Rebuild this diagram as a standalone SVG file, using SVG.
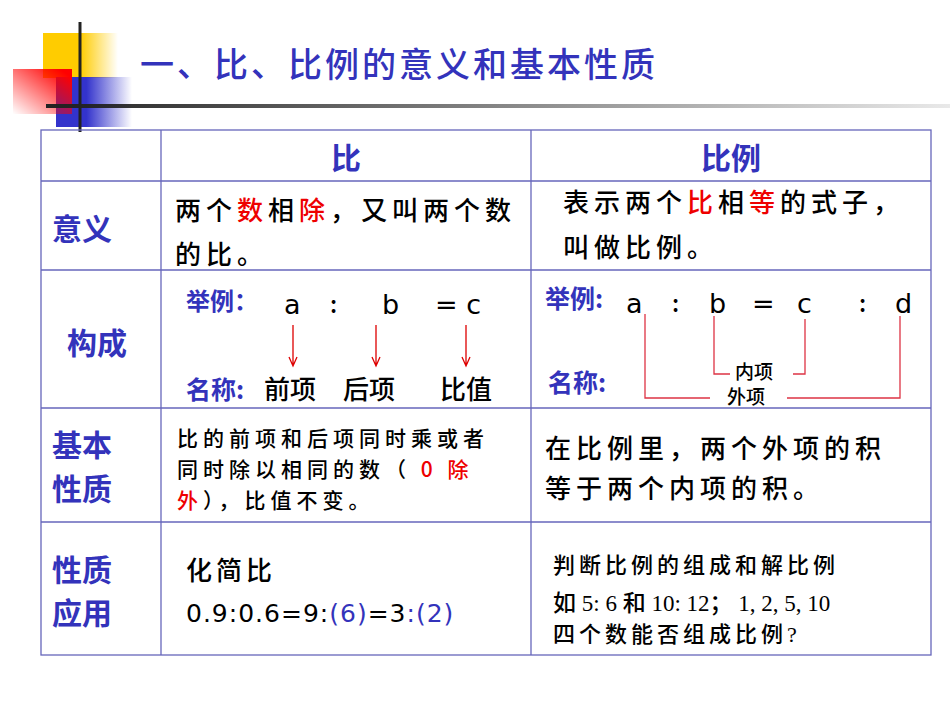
<svg xmlns="http://www.w3.org/2000/svg" width="950" height="713" viewBox="0 0 950 713">
<defs>
<linearGradient id="gy" x1="0" x2="1" y1="0" y2="0"><stop offset="0.5" stop-color="#ffcc00"/><stop offset="1" stop-color="#ffcc00" stop-opacity="0"/></linearGradient>
<linearGradient id="gb" x1="0" x2="1" y1="0" y2="0"><stop offset="0.4" stop-color="#3333cc"/><stop offset="1" stop-color="#3333cc" stop-opacity="0"/></linearGradient>
<linearGradient id="gr" x1="1" y1="0" x2="0" y2="1"><stop offset="0.1" stop-color="#ff0000"/><stop offset="1" stop-color="#ff0000" stop-opacity="0"/></linearGradient>
<linearGradient id="gl" x1="0" x2="1"><stop offset="0" stop-color="#222"/><stop offset="1" stop-color="#222" stop-opacity="0.1"/></linearGradient>
</defs>
<style>
.t{font-family:"Noto Sans CJK SC",sans-serif;font-weight:500}
.h{fill:#3333bb;font-size:30px;font-weight:bold}
.b{fill:#000;font-size:26px}
.r{fill:#ee0000}
.bl{fill:#3333bb;font-weight:bold}
.ln{fill:none;stroke:#dd3344;stroke-width:1.3}
.v{font-family:"DejaVu Sans",sans-serif;font-weight:normal}
.s{font-family:"Liberation Serif","Noto Sans CJK SC",serif}
.arr{fill:none;stroke:#dd0000;stroke-width:1.3}
</style>
<g id="deco">
<rect x="43" y="33" width="75" height="45" fill="url(#gy)"/>
<rect x="56" y="77" width="76" height="50" fill="url(#gb)"/>
<rect x="13" y="69" width="59" height="45" fill="url(#gr)"/>
<line x1="80" y1="22" x2="80" y2="132" stroke="#222" stroke-width="3"/>
<rect x="46" y="104" width="904" height="4" fill="url(#gl)"/>
</g>
<text class="t" x="140" y="77" font-size="34" font-weight="bold" fill="#3333bb" letter-spacing="3">一、比、比例的意义和基本性质</text>
<g id="table" fill="none" stroke="#6666bb" stroke-width="1.3">
<rect x="41" y="130" width="890" height="525"/>
<line x1="161" y1="130" x2="161" y2="655"/>
<line x1="531" y1="130" x2="531" y2="655"/>
<line x1="41" y1="181" x2="931" y2="181"/>
<line x1="41" y1="270" x2="931" y2="270"/>
<line x1="41" y1="408" x2="931" y2="408"/>
<line x1="41" y1="522" x2="931" y2="522"/>
</g>
<g class="t">
<text class="h" x="346" y="169" text-anchor="middle">比</text>
<text class="h" x="731" y="169" text-anchor="middle">比例</text>
<text class="h" x="52" y="240">意义</text>
<text class="h" x="67" y="354">构成</text>
<text class="h" x="52" y="456">基本</text>
<text class="h" x="52" y="500">性质</text>
<text class="h" x="52" y="581">性质</text>
<text class="h" x="52" y="624">应用</text>
<text class="b" x="175" y="220" letter-spacing="5">两个<tspan class="r">数</tspan>相<tspan class="r">除</tspan>，又叫两个数</text>
<text class="b" x="175" y="264" letter-spacing="5">的比。</text>
<text class="b" x="563" y="212" letter-spacing="5">表示两个<tspan class="r">比</tspan>相<tspan class="r">等</tspan>的式子，</text>
<text class="b" x="563" y="257" letter-spacing="5">叫做比例。</text>
<text class="bl" x="186" y="310" font-size="24">举例：</text>
<text class="v" x="284" y="314" font-size="27">a</text>
<text x="330" y="313" font-size="24">:</text>
<text class="v" x="382" y="314" font-size="27">b</text>
<text class="v" x="435" y="314" font-size="27">= c</text>
<text class="bl" x="186" y="399" font-size="25">名称:</text>
<text class="b" x="264" y="399">前项</text>
<text class="b" x="343" y="399">后项</text>
<text class="b" x="440" y="399">比值</text>
<text class="bl" x="545" y="308" font-size="25">举例:</text>
<text class="v" x="626" y="313" font-size="27">a</text>
<text x="672" y="312" font-size="24">:</text>
<text class="v" x="709" y="313" font-size="27">b</text>
<text class="v" x="752" y="313" font-size="27">=</text>
<text class="v" x="797" y="313" font-size="27">c</text>
<text x="859" y="312" font-size="24">:</text>
<text class="v" x="895" y="313" font-size="27">d</text>
<text class="bl" x="548" y="392" font-size="25">名称:</text>
<text x="735" y="379" font-size="19">内项</text>
<text x="727" y="404" font-size="19">外项</text>
<text x="177" y="446" font-size="21" letter-spacing="5">比的前项和后项同时乘或者</text>
<text x="177" y="477" font-size="21" letter-spacing="5">同时除以相同的数（ <tspan class="r">0  除</tspan></text>
<text x="177" y="508" font-size="21" letter-spacing="5"><tspan class="r">外</tspan>），比值不变。</text>
<text class="b" x="545" y="458" letter-spacing="5">在比例里，两个外项的积</text>
<text class="b" x="545" y="498" letter-spacing="5">等于两个内项的积。</text>
<text class="b" x="186" y="580" letter-spacing="4">化简比</text>
<text class="v" x="186" y="622" font-size="25" letter-spacing="1">0.9:0.6=9:<tspan fill="#3333bb">(6)</tspan>=3<tspan fill="#3333bb">:(2)</tspan></text>
</g>
<g class="s" font-size="22" font-weight="500">
<text x="553" y="573" letter-spacing="4">判断比例的组成和解比例</text>
<text x="553" y="611" font-size="23">如 5: 6 和 10: 12；  1, 2, 5, 10</text>
<text x="553" y="642" letter-spacing="4">四个数能否组成比例?</text>
</g>
<g id="connectors">
<path class="arr" d="M293,325 V366 M289,357 L293,366 L297,357"/>
<path class="arr" d="M376,325 V366 M372,357 L376,366 L380,357"/>
<path class="arr" d="M466,325 V366 M462,357 L466,366 L470,357"/>
<path class="ln" d="M714,316 V374 H730 M793,374 H805 V319"/>
<path class="ln" d="M645,314 V398 H710 M787,398 H900 V316"/>
</g>
</svg>
